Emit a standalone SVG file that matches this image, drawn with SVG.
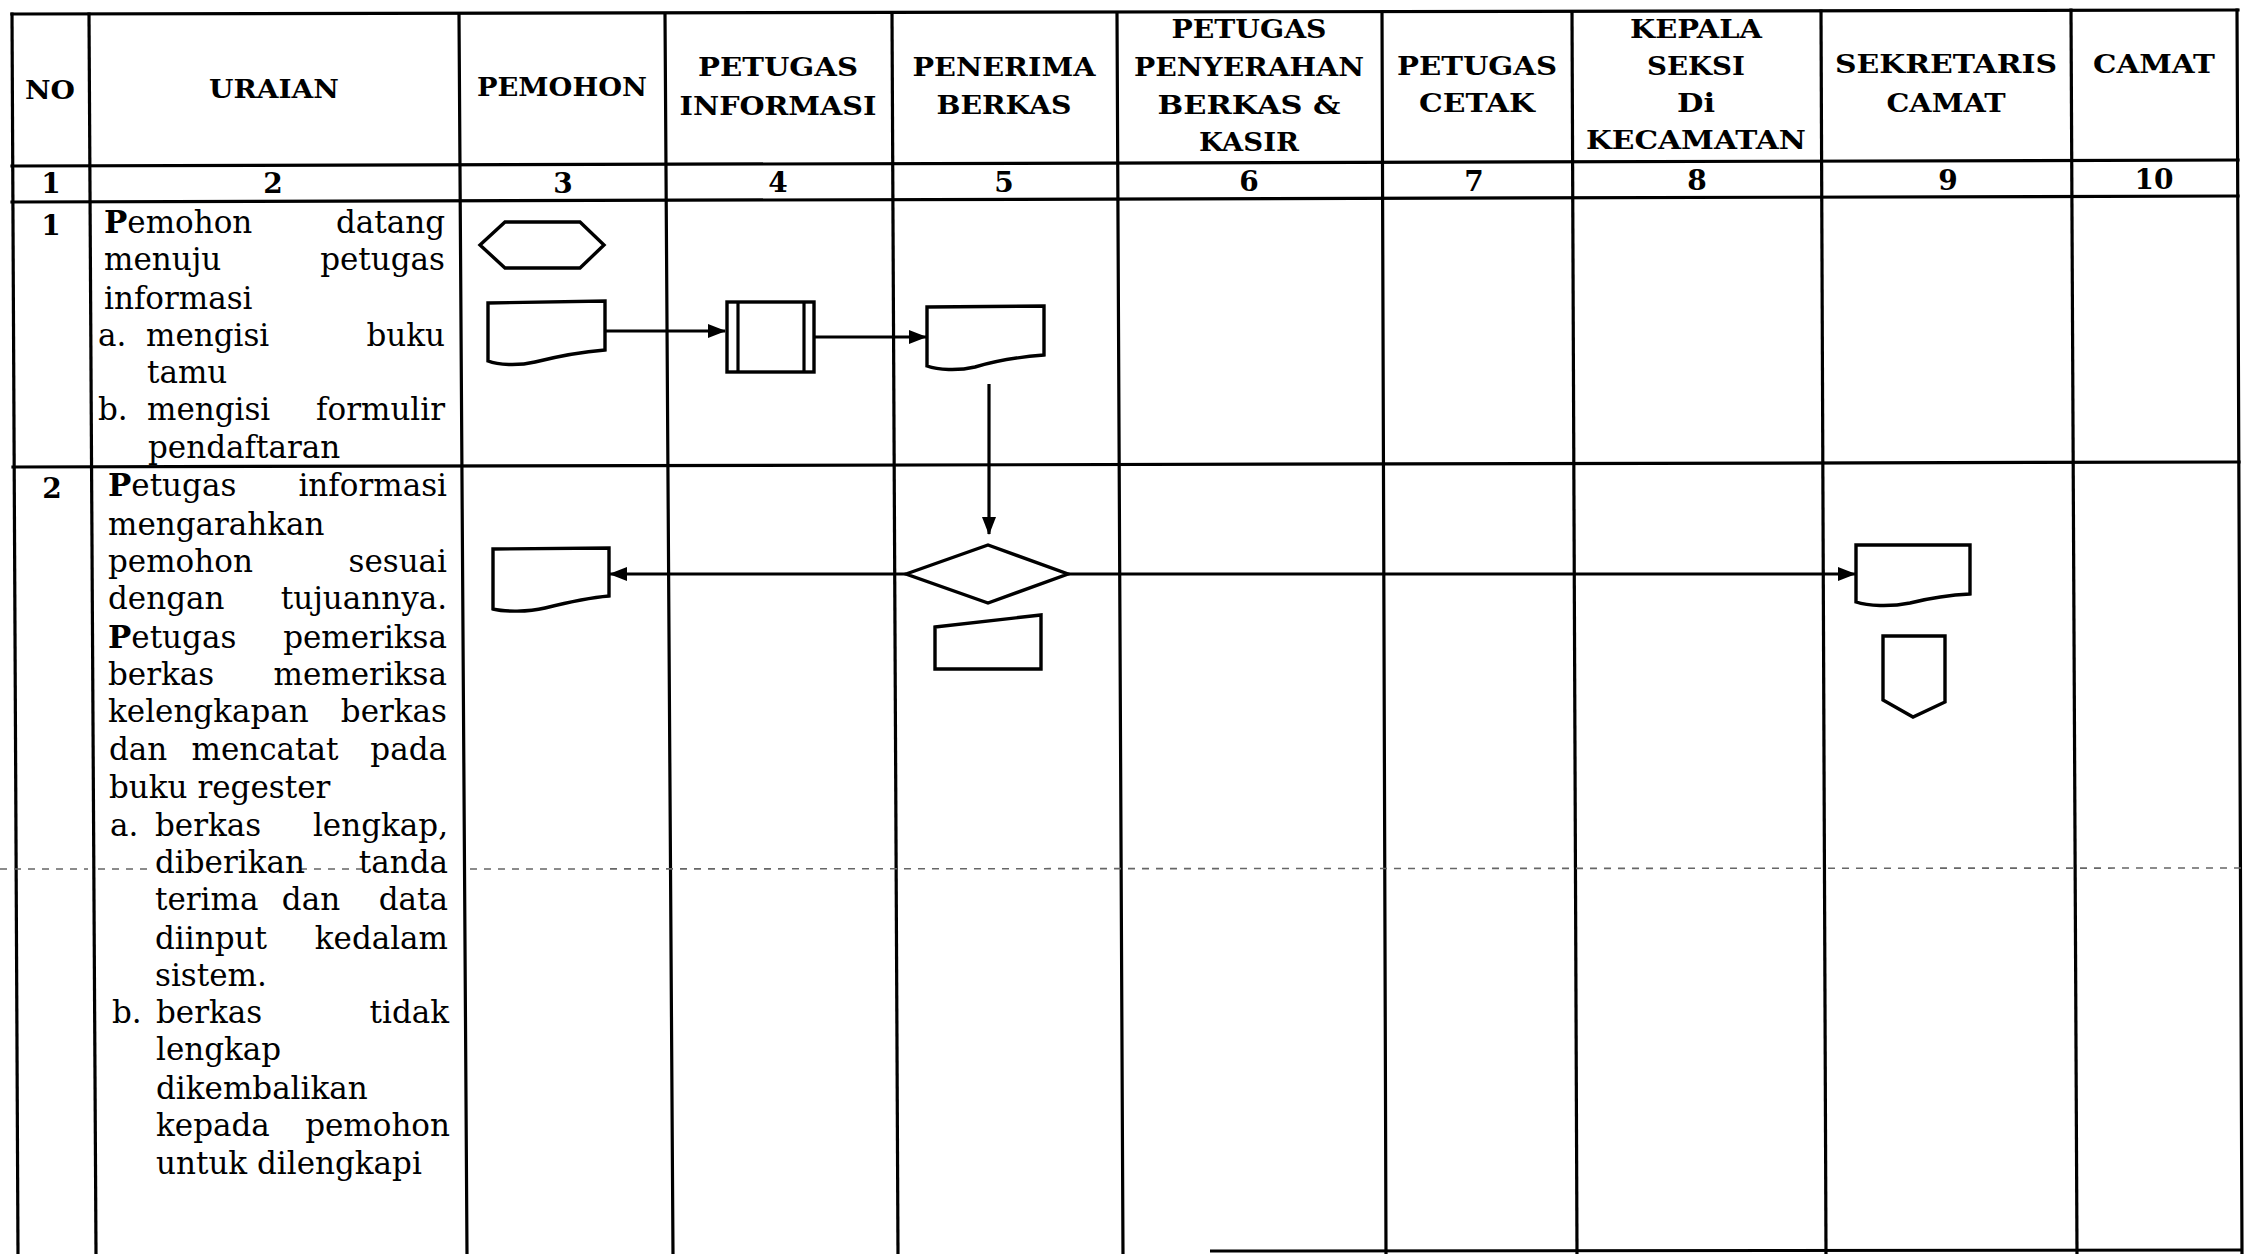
<svg xmlns="http://www.w3.org/2000/svg" width="2245" height="1254" viewBox="0 0 2245 1254">
<style>
.grid{stroke:#000;stroke-width:3.2;fill:none;stroke-linecap:square}
.shape{stroke:#000;stroke-width:3.4;fill:#fff;stroke-linejoin:miter}
.con{stroke:#000;stroke-width:3.2;fill:none}
.dash{stroke:#666;stroke-width:1.6;stroke-dasharray:7 7;fill:none}
.hd{font-family:"DejaVu Serif","Liberation Serif",serif;font-weight:bold;font-size:26px;text-anchor:middle;fill:#000}
.num{font-family:"DejaVu Serif","Liberation Serif",serif;font-weight:bold;font-size:28px;text-anchor:middle;fill:#000}
.tx{font-family:"DejaVu Serif","Liberation Serif",serif;font-size:31px;fill:#000}
.r{text-anchor:end}
.m{text-anchor:middle}
.b{font-weight:bold}
</style>
<defs>
<marker id="ah" markerWidth="18" markerHeight="14" refX="17" refY="7" orient="auto" markerUnits="userSpaceOnUse">
<path d="M0,0 L18,7 L0,14 Z" fill="#000"/>
</marker>
</defs>
<rect width="2245" height="1254" fill="#fff"/>

<g id="grid">
<line class="grid" x1="12" y1="14" x2="2238" y2="10"/>
<line class="grid" x1="12" y1="166" x2="2238" y2="160"/>
<line class="grid" x1="12" y1="202" x2="2238" y2="196"/>
<line class="grid" x1="13" y1="467" x2="2239" y2="462"/>
<line x1="1210" y1="1251" x2="2242" y2="1250" stroke="#000" stroke-width="3"/>
<line class="grid" x1="12" y1="14" x2="18" y2="1254"/>
<line class="grid" x1="89" y1="14" x2="96" y2="1254"/>
<line class="grid" x1="459" y1="14" x2="467" y2="1254"/>
<line class="grid" x1="665" y1="14" x2="673" y2="1254"/>
<line class="grid" x1="892" y1="14" x2="898" y2="1254"/>
<line class="grid" x1="1117" y1="14" x2="1123" y2="1254"/>
<line class="grid" x1="1382" y1="12" x2="1386" y2="1254"/>
<line class="grid" x1="1572" y1="12" x2="1577" y2="1254"/>
<line class="grid" x1="1821" y1="11" x2="1826" y2="1254"/>
<line class="grid" x1="2071" y1="10" x2="2077" y2="1254"/>
<line class="grid" x1="2237" y1="10" x2="2242" y2="1254"/>
<line class="dash" x1="0" y1="869" x2="88" y2="869"/>
<line class="dash" x1="98" y1="869" x2="150" y2="869"/>
<line class="dash" x1="300" y1="869" x2="370" y2="869"/>
<line class="dash" x1="470" y1="869" x2="2245" y2="868"/>
</g>

<g id="header">
<text class="hd" x="50" y="99" textLength="50" lengthAdjust="spacingAndGlyphs">NO</text>
<text class="hd" x="274" y="98" textLength="130" lengthAdjust="spacingAndGlyphs">URAIAN</text>
<text class="hd" x="562" y="96" textLength="170" lengthAdjust="spacingAndGlyphs">PEMOHON</text>
<text class="hd" x="778" y="76" textLength="160" lengthAdjust="spacingAndGlyphs">PETUGAS</text>
<text class="hd" x="778" y="115" textLength="197" lengthAdjust="spacingAndGlyphs">INFORMASI</text>
<text class="hd" x="1004" y="76" textLength="183" lengthAdjust="spacingAndGlyphs">PENERIMA</text>
<text class="hd" x="1004" y="114" textLength="135" lengthAdjust="spacingAndGlyphs">BERKAS</text>
<text class="hd" x="1249" y="38" textLength="155" lengthAdjust="spacingAndGlyphs">PETUGAS</text>
<text class="hd" x="1249" y="76" textLength="230" lengthAdjust="spacingAndGlyphs">PENYERAHAN</text>
<text class="hd" x="1249" y="114" textLength="183" lengthAdjust="spacingAndGlyphs">BERKAS &amp;</text>
<text class="hd" x="1249" y="151" textLength="100" lengthAdjust="spacingAndGlyphs">KASIR</text>
<text class="hd" x="1477" y="75" textLength="160" lengthAdjust="spacingAndGlyphs">PETUGAS</text>
<text class="hd" x="1477" y="112" textLength="116" lengthAdjust="spacingAndGlyphs">CETAK</text>
<text class="hd" x="1696" y="38" textLength="132" lengthAdjust="spacingAndGlyphs">KEPALA</text>
<text class="hd" x="1696" y="75" textLength="98" lengthAdjust="spacingAndGlyphs">SEKSI</text>
<text class="hd" x="1696" y="112" textLength="38" lengthAdjust="spacingAndGlyphs">Di</text>
<text class="hd" x="1696" y="149" textLength="220" lengthAdjust="spacingAndGlyphs">KECAMATAN</text>
<text class="hd" x="1946" y="73" textLength="222" lengthAdjust="spacingAndGlyphs">SEKRETARIS</text>
<text class="hd" x="1946" y="112" textLength="119" lengthAdjust="spacingAndGlyphs">CAMAT</text>
<text class="hd" x="2154" y="73" textLength="122" lengthAdjust="spacingAndGlyphs">CAMAT</text>
<text class="num" x="51" y="193">1</text>
<text class="num" x="273" y="193">2</text>
<text class="num" x="563" y="193">3</text>
<text class="num" x="778" y="192">4</text>
<text class="num" x="1004" y="192">5</text>
<text class="num" x="1249" y="191">6</text>
<text class="num" x="1474" y="191">7</text>
<text class="num" x="1697" y="190">8</text>
<text class="num" x="1948" y="190">9</text>
<text class="num" x="2154" y="189">10</text>
</g>

<g id="row1-text">
<text class="num" x="51" y="235">1</text>
<text class="tx" x="104" y="233"><tspan class="b">P</tspan>emohon</text>
<text class="tx r" x="445" y="233">datang</text>
<text class="tx" x="104" y="270">menuju</text>
<text class="tx r" x="445" y="270">petugas</text>
<text class="tx" x="104" y="309">informasi</text>
<text class="tx" x="98" y="346">a.</text>
<text class="tx" x="146" y="346">mengisi</text>
<text class="tx r" x="445" y="346">buku</text>
<text class="tx" x="147" y="383">tamu</text>
<text class="tx" x="98" y="420">b.</text>
<text class="tx" x="147" y="420">mengisi</text>
<text class="tx r" x="445" y="420">formulir</text>
<text class="tx" x="148" y="458">pendaftaran</text>
</g>

<g id="row2-text">
<text class="num" x="52" y="498">2</text>
<text class="tx" x="108" y="496"><tspan class="b">P</tspan>etugas</text>
<text class="tx r" x="447" y="496">informasi</text>
<text class="tx" x="108" y="535">mengarahkan</text>
<text class="tx" x="108" y="572">pemohon</text>
<text class="tx r" x="447" y="572">sesuai</text>
<text class="tx" x="108" y="609">dengan</text>
<text class="tx r" x="447" y="609">tujuannya.</text>
<text class="tx" x="108" y="648"><tspan class="b">P</tspan>etugas</text>
<text class="tx r" x="447" y="648">pemeriksa</text>
<text class="tx" x="108" y="685">berkas</text>
<text class="tx r" x="447" y="685">memeriksa</text>
<text class="tx" x="108" y="722">kelengkapan</text>
<text class="tx r" x="447" y="722">berkas</text>
<text class="tx" x="109" y="760">dan</text>
<text class="tx m" x="265" y="760">mencatat</text>
<text class="tx r" x="447" y="760">pada</text>
<text class="tx" x="109" y="798">buku regester</text>
<text class="tx" x="110" y="836">a.</text>
<text class="tx" x="155" y="836">berkas</text>
<text class="tx r" x="448" y="836">lengkap,</text>
<text class="tx" x="155" y="873">diberikan</text>
<text class="tx r" x="448" y="873">tanda</text>
<text class="tx" x="155" y="910">terima</text>
<text class="tx m" x="311" y="910">dan</text>
<text class="tx r" x="448" y="910">data</text>
<text class="tx" x="155" y="949">diinput</text>
<text class="tx r" x="448" y="949">kedalam</text>
<text class="tx" x="155" y="986">sistem.</text>
<text class="tx" x="112" y="1023">b.</text>
<text class="tx" x="156" y="1023">berkas</text>
<text class="tx r" x="449" y="1023">tidak</text>
<text class="tx" x="156" y="1060">lengkap</text>
<text class="tx" x="156" y="1099">dikembalikan</text>
<text class="tx" x="156" y="1136">kepada</text>
<text class="tx r" x="450" y="1136">pemohon</text>
<text class="tx" x="156" y="1174">untuk dilengkapi</text>
</g>

<g id="start-pemohon">
<path class="shape" d="M480,245 L505,222 L580,222 L604,245 L580,268 L505,268 Z"/>
</g>
<g id="doc-pemohon-1">
<path class="shape" d="M488,303 L605,301 L605,350 C580,352 555,357 535,362 C518,366 498,365 488,361 Z"/>
</g>
<g id="proc-petugas-informasi">
<rect class="shape" x="727" y="302" width="87" height="70"/>
<line class="con" x1="738" y1="302" x2="738" y2="372"/>
<line class="con" x1="804" y1="302" x2="804" y2="372"/>
</g>
<g id="doc-penerima-1">
<path class="shape" d="M927,307 L1044,306 L1044,355 C1018,357 995,361 975,367 C958,371 938,370 927,366 Z"/>
</g>
<g id="decision-penerima">
<path class="shape" d="M906,574 L988,545 L1068,574 L988,603 Z"/>
</g>
<g id="input-penerima">
<path class="shape" d="M935,627 L1041,615 L1041,669 L935,669 Z"/>
</g>
<g id="doc-pemohon-2">
<path class="shape" d="M493,549 L609,548 L609,596 C585,598 565,603 545,608 C528,612 505,612 493,609 Z"/>
</g>
<g id="doc-sekretaris">
<path class="shape" d="M1856,545 L1970,545 L1970,594 C1948,595 1930,598 1910,603 C1890,607 1868,606 1856,602 Z"/>
</g>
<g id="offpage-sekretaris">
<path class="shape" d="M1883,636 L1945,636 L1945,702 L1913,717 L1883,700 Z"/>
</g>

<g id="connectors">
<path class="con" d="M605,331 H725" marker-end="url(#ah)"/>
<path class="con" d="M814,337 H926" marker-end="url(#ah)"/>
<path class="con" d="M989,384 V534" marker-end="url(#ah)"/>
<path class="con" d="M906,574 H610" marker-end="url(#ah)"/>
<path class="con" d="M1068,574 H1855" marker-end="url(#ah)"/>
</g>
</svg>
